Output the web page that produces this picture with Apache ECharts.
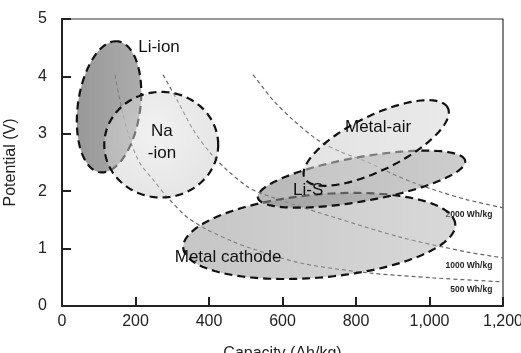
<!DOCTYPE html>
<html>
<head>
<meta charset="utf-8">
<script src="https://cdn.jsdelivr.net/npm/echarts@6/dist/echarts.min.js"></script>
<style>html,body{margin:0;padding:0;background:#fff}#chart{width:521px;height:353px}</style>
</head>
<body>
<div id="chart"></div>
<script>
// ---- data (Capacity Ah/kg, Potential V) ----
const curve500 = [[144,4.03],[163,3.42],[185,2.90],[212,2.49],[248,2.20],[286,1.90],[340,1.55],[395,1.33],[466,1.12],[512,1.01],[648,0.75],[830,0.58],[1010,0.49],[1200,0.42]];
const curve1000 = [[275,4.03],[313,3.59],[357,3.07],[403,2.67],[449,2.37],[504,2.08],[539,1.97],[634,1.76],[738,1.55],[920,1.20],[1103,0.94],[1200,0.84]];
const curve2000 = [[520,4.03],[574,3.59],[629,3.24],[694,2.90],[757,2.69],[830,2.51],[893,2.32],[956,2.15],[1029,1.99],[1103,1.85],[1200,1.71]];
const curveNames = ['2000 Wh/kg','1000 Wh/kg','500 Wh/kg'];
const curveLabelAt = [[1171,1.59],[1171,0.70],[1171,0.28]];

const regionNames = ['Li-ion','Na-ion','Metal cathode','Li-S','Metal-air'];
const regionCenter = [[128,3.47],[270,2.81],[700,1.22],[815,2.21],[855,2.84]];
const regionMajorEnd = [[153,4.61],[425,2.81],[1070,1.43],[1097,2.53],[1050,3.45]];
const regionMinorEnd = [[44,3.55],[270,3.73],[690,1.94],[805,2.59],[823,3.27]];

const labelText = ['Li-ion','Na\n-ion','Metal-air','Li-S','Metal cathode'];
const labelAt = [[264,4.50],[272,2.86],[860,3.12],[670,2.02],[452,0.855]];

const xMin = 0, xMax = 1200, xStep = 200;
const yMin = 0, yMax = 5, yStep = 1;

// ---- styles ----
const G = echarts.graphic;
const fills = [
  new G.LinearGradient(0,0,1,0,[{offset:0,color:'rgba(125,125,125,0.8)'},{offset:1,color:'rgba(145,145,145,0.75)'}]),
  new G.RadialGradient(0.45,0.4,0.7,[{offset:0,color:'rgba(228,228,228,0.5)'},{offset:1,color:'rgba(200,200,200,0.5)'}]),
  new G.LinearGradient(0,0,1,0,[{offset:0,color:'rgba(150,150,150,0.55)'},{offset:1,color:'rgba(178,178,178,0.5)'}]),
  new G.LinearGradient(0,0,1,0,[{offset:0,color:'rgba(135,135,135,0.6)'},{offset:1,color:'rgba(165,165,165,0.55)'}]),
  new G.LinearGradient(0,0,1,0,[{offset:0,color:'rgba(205,205,205,0.55)'},{offset:1,color:'rgba(215,215,215,0.55)'}])
];
const FONT = 'Liberation Sans, Arial, sans-serif';

const ellipseData = regionNames.map((n,i)=>[regionCenter[i][0],regionCenter[i][1],regionMajorEnd[i][0],regionMajorEnd[i][1],regionMinorEnd[i][0],regionMinorEnd[i][1]]);

function curveSeries(d){
  return {type:'line', data:d, smooth:0.3, symbol:'none', z:1, silent:true,
    lineStyle:{color:'#666', width:1.2, type:[4,3]}};
}

const chart = echarts.init(document.getElementById('chart'), null, {renderer:'canvas'});
chart.setOption({
  animation:false,
  backgroundColor:'#fff',
  grid:{left:62,right:18,top:19,bottom:47,show:true,borderColor:'#333',borderWidth:1.2,
    containLabel:false,outerBoundsMode:'none'},
  xAxis:{type:'value',min:xMin,max:xMax,interval:xStep,
    name:'Capacity (Ah/kg)',nameLocation:'middle',nameGap:40,
    nameTextStyle:{fontSize:16,color:'#222',fontFamily:FONT},
    axisLine:{lineStyle:{color:'#222',width:2}},
    axisTick:{inside:true,length:9,lineStyle:{color:'#222',width:2}},
    axisLabel:{fontSize:16,color:'#222',fontFamily:FONT,margin:8,
      formatter:v=>v.toLocaleString('en-US')},
    splitLine:{show:false}},
  yAxis:{type:'value',min:yMin,max:yMax,interval:yStep,
    name:'Potential (V)',nameLocation:'middle',nameGap:43,
    nameTextStyle:{fontSize:16,color:'#222',fontFamily:FONT},
    axisLine:{show:true,lineStyle:{color:'#222',width:2}},
    axisTick:{show:true,inside:true,length:9,lineStyle:{color:'#222',width:2}},
    axisLabel:{fontSize:16,color:'#222',fontFamily:FONT,margin:15},
    splitLine:{show:false}},
  series:[
    curveSeries(curve500), curveSeries(curve1000), curveSeries(curve2000),
    {type:'custom', z:1, silent:true,
      data: curveLabelAt.map((p,i)=>[p[0],p[1],i]),
      renderItem:(params,api)=>{
        const p = api.coord([api.value(0),api.value(1)]);
        return {type:'text', x:p[0], y:p[1], style:{text:curveNames[params.dataIndex], fill:'#222',
          font:'bold 8.5px '+FONT, textAlign:'right', textVerticalAlign:'middle'}};
      }},
    {type:'custom', z:2, silent:true,
      data: ellipseData,
      encode:{x:[0,2,4],y:[1,3,5]},
      renderItem:(params,api)=>{
        const c = api.coord([api.value(0),api.value(1)]);
        const m = api.coord([api.value(2),api.value(3)]);
        const n = api.coord([api.value(4),api.value(5)]);
        const u=[m[0]-c[0],m[1]-c[1]], v=[n[0]-c[0],n[1]-c[1]];
        const pts=[];
        for(let k=0;k<160;k++){
          const t=2*Math.PI*k/160;
          pts.push([c[0]+u[0]*Math.cos(t)+v[0]*Math.sin(t), c[1]+u[1]*Math.cos(t)+v[1]*Math.sin(t)]);
        }
        return {type:'polygon', shape:{points:pts},
          style:{fill:fills[params.dataIndex], stroke:'#111', lineWidth:2.2, lineDash:[8,5]}};
      }},
    {type:'custom', z:3, silent:true,
      data: labelAt.map((p,i)=>[p[0],p[1],i]),
      renderItem:(params,api)=>{
        const p = api.coord([api.value(0),api.value(1)]);
        return {type:'text', x:p[0], y:p[1], style:{text:labelText[params.dataIndex], fill:'#111',
          font:'17px '+FONT, textAlign:'center', textVerticalAlign:'middle', lineHeight:22}};
      }}
  ]
});
</script>
</body>
</html>
